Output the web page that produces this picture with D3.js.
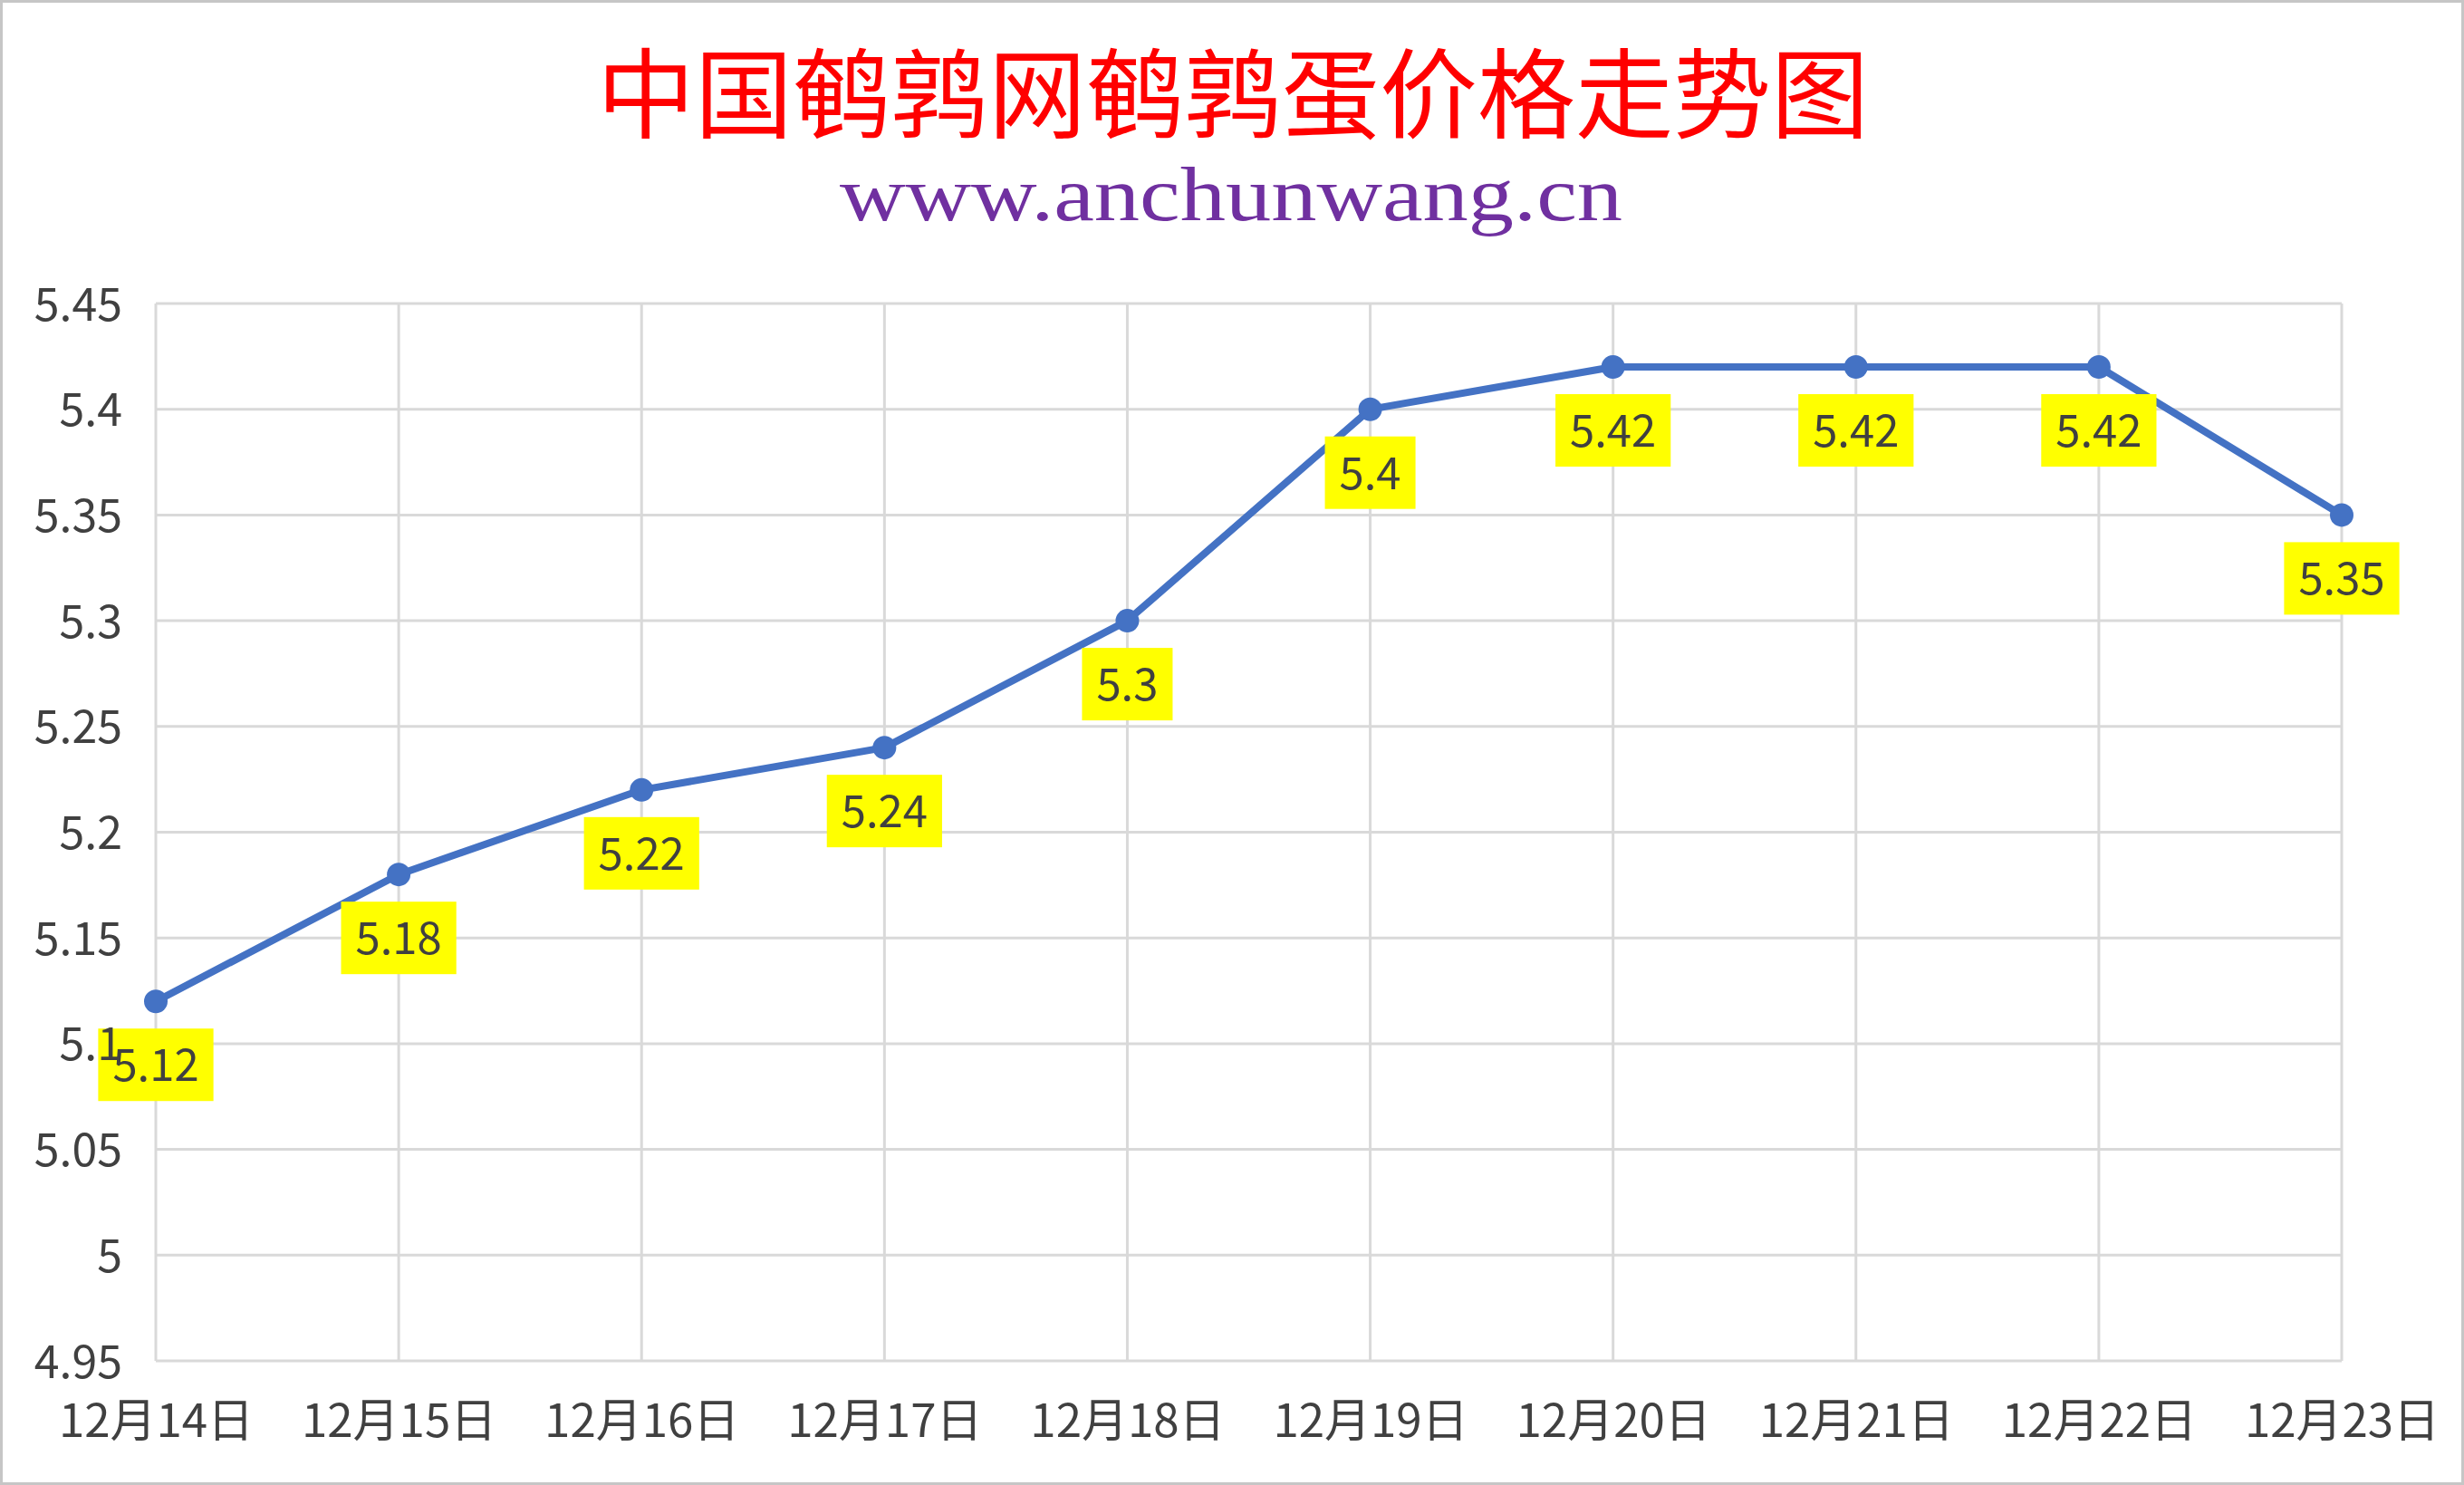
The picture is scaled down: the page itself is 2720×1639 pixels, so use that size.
<!DOCTYPE html>
<html>
<head>
<meta charset="utf-8">
<script src="https://cdn.jsdelivr.net/npm/d3@7/dist/d3.min.js"></script>
<style>
html,body{margin:0;padding:0;background:#fff;}
svg{display:block;}
</style>
</head>
<body>
<svg id="chart" width="2720" height="1639"></svg>
<script>
const titleText = "中国鹌鹑网鹌鹑蛋价格走势图";
const subtitleText = "www.anchunwang.cn";
const categories = ["12月14日","12月15日","12月16日","12月17日","12月18日","12月19日","12月20日","12月21日","12月22日","12月23日"];
const prices = [5.12, 5.18, 5.22, 5.24, 5.3, 5.4, 5.42, 5.42, 5.42, 5.35];
const yTicks = [4.95, 5, 5.05, 5.1, 5.15, 5.2, 5.25, 5.3, 5.35, 5.4, 5.45];

const W = 2720, H = 1639;
const plot = {left: 172, right: 2585, top: 335, bottom: 1502};
const svg = d3.select("#chart");
const textFont = "'Noto Sans CJK SC', 'Noto Sans', sans-serif";

svg.append("rect").attr("x", 0).attr("y", 0).attr("width", W).attr("height", H).attr("fill", "#fff");
svg.append("rect").attr("x", 1.5).attr("y", 1.5).attr("width", W - 3).attr("height", H - 3)
  .attr("fill", "none").attr("stroke", "#c6c6c6").attr("stroke-width", 3);

const x = d3.scalePoint().domain(categories).range([plot.left, plot.right]);
const y = d3.scaleLinear().domain([4.95, 5.45]).range([plot.bottom, plot.top]);

// gridlines
const grid = svg.append("g");
grid.selectAll("line.h").data(yTicks).join("line").attr("class", "h")
  .attr("x1", plot.left).attr("x2", plot.right)
  .attr("y1", d => y(d)).attr("y2", d => y(d))
  .attr("stroke", "#d9d9d9").attr("stroke-width", 3);
grid.selectAll("line.v").data(categories).join("line").attr("class", "v")
  .attr("x1", d => x(d)).attr("x2", d => x(d))
  .attr("y1", plot.top).attr("y2", plot.bottom)
  .attr("stroke", "#d9d9d9").attr("stroke-width", 3);

// x axis labels
const xAxis = svg.append("g").attr("transform", `translate(0,${plot.bottom})`)
  .call(d3.axisBottom(x).tickSize(0).tickPadding(0));
xAxis.select(".domain").remove();
xAxis.selectAll("text").attr("font-family", textFont).attr("font-size", 51)
  .attr("fill", "#404040").attr("dy", null).attr("y", 84);

// line
const line = d3.line().x((d, i) => x(categories[i])).y(d => y(d));
svg.append("path").datum(prices).attr("d", line)
  .attr("fill", "none").attr("stroke", "#4472c4").attr("stroke-width", 8)
  .attr("stroke-linejoin", "round").attr("stroke-linecap", "round");

svg.selectAll("circle.pt").data(prices).join("circle").attr("class", "pt")
  .attr("cx", (d, i) => x(categories[i])).attr("cy", d => y(d)).attr("r", 13)
  .attr("fill", "#4472c4");

// data labels
const labels = svg.append("g");
prices.forEach((v, i) => {
  const cx = x(categories[i]);
  const top = y(v) + 30;
  const g = labels.append("g");
  const rect = g.append("rect").attr("fill", "#ffff00");
  const t = g.append("text").attr("x", cx).attr("y", top + 40 + 18)
    .attr("text-anchor", "middle").attr("font-family", textFont).attr("font-size", 49)
    .attr("fill", "#404040").text(String(v));
  const w = t.node().getComputedTextLength() + 32;
  rect.attr("x", cx - w / 2).attr("y", top).attr("width", w).attr("height", 80);
});

// y axis labels (drawn above data labels, as in the reference)
const yAxis = svg.append("g").attr("transform", `translate(${plot.left},0)`)
  .call(d3.axisLeft(y).tickValues(yTicks).tickSize(0).tickPadding(37).tickFormat(d => String(d)));
yAxis.select(".domain").remove();
yAxis.selectAll("text").attr("font-family", textFont).attr("font-size", 50)
  .attr("fill", "#404040").attr("dy", null).attr("dominant-baseline", "auto")
  .attr("transform", "translate(0,18)");

// titles
svg.append("text").attr("x", 1361).attr("y", 144).attr("text-anchor", "middle")
  .attr("font-family", "'Noto Sans CJK SC', sans-serif").attr("font-size", 108)
  .attr("fill", "#ff0000").text(titleText);
svg.append("text").attr("x", 1359).attr("y", 243).attr("text-anchor", "middle")
  .attr("font-family", "'Liberation Serif', 'Times New Roman', serif").attr("font-size", 84)
  .attr("fill", "#7030a0").attr("textLength", 864).attr("lengthAdjust", "spacingAndGlyphs")
  .text(subtitleText);
</script>
</body>
</html>
